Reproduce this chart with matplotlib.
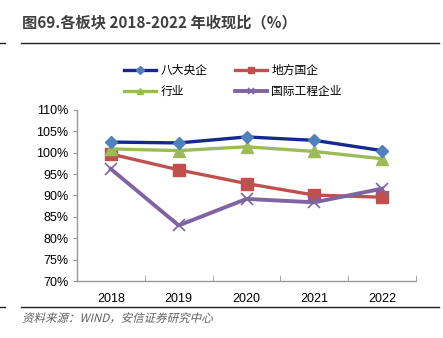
import matplotlib
matplotlib.use("Agg")
import matplotlib.pyplot as plt
from matplotlib.lines import Line2D
from matplotlib.textpath import TextPath
from matplotlib.patches import PathPatch
from matplotlib.font_manager import FontProperties
from matplotlib.transforms import Affine2D

plt.rcParams['font.family'] = ['Liberation Sans', 'Noto Sans CJK SC', 'DejaVu Sans']

years = ['2018', '2019', '2020', '2021', '2022']
central_soe = [102.5, 102.3, 103.7, 102.9, 100.5]   # 八大央企
local_soe = [99.7, 96.0, 92.8, 90.1, 89.6]          # 地方国企
industry = [100.9, 100.5, 101.4, 100.3, 98.6]       # 行业
intl_eng = [96.2, 83.0, 89.2, 88.4, 91.6]           # 国际工程企业
y_ticks = [70, 75, 80, 85, 90, 95, 100, 105, 110]

W, H = 443, 338
fig = plt.figure(figsize=(W / 100, H / 100), dpi=100)
ax = fig.add_axes([77 / W, 1 - 281 / H, (416 - 77) / W, (281 - 110) / H])

x = list(range(len(years)))
ax.plot(x, central_soe, color='#15288F', lw=2.4, marker='D', ms=6.5,
        mfc='#4F81BD', mec='#4F81BD', label='八大央企', zorder=4)
ax.plot(x, local_soe, color='#C0504D', lw=2.4, marker='s', ms=8,
        mfc='#C0504D', mec='#C0504D', label='地方国企', zorder=3)
ax.plot(x, industry, color='#9BBB59', lw=2.4, marker='^', ms=8,
        mfc='#9BBB59', mec='#9BBB59', label='行业', zorder=3)
ax.plot(x, intl_eng, color='#8064A2', lw=2.8, marker='x', ms=8, mew=1.2,
        label='国际工程企业', zorder=3)

ax.set_xlim(-0.5, len(years) - 0.5)
ax.set_ylim(70, 110)
ax.set_yticks(y_ticks)
ax.set_yticklabels([f'{v}%' for v in y_ticks])
ax.set_xticks(x)
ax.set_xticklabels(years)
ax.set_xticks([i + 0.5 for i in range(len(years))], minor=True)
ax.tick_params(axis='x', which='major', length=0, pad=9, labelsize=9)
ax.tick_params(axis='x', which='minor', direction='in', length=4, color='#999999')
ax.tick_params(axis='y', length=3, color='#999999', labelsize=9, pad=3)
for s in ['top', 'right']:
    ax.spines[s].set_visible(False)
for s in ['left', 'bottom']:
    ax.spines[s].set_color('#999999')
    ax.spines[s].set_linewidth(1.0)

handles, labels = ax.get_legend_handles_labels()
order = [0, 2, 1, 3]
leg = fig.legend([handles[i] for i in order], [labels[i] for i in order],
                 ncol=2, loc='upper left', bbox_to_anchor=(118 / W, 1 - 58 / H),
                 frameon=False, borderpad=0, handlelength=2.7, handletextpad=0.4,
                 columnspacing=2.3, labelspacing=0.7, markerscale=0.6,
                 prop={'family': ['Noto Sans CJK SC'], 'size': 8.5})

# title and frame lines
fig.text(22 / W, 1 - 22 / H, '图69.各板块 2018-2022 年收现比（%）', fontsize=11,
         fontweight='bold', color='#404040', va='center', ha='left',
         family=['Noto Sans CJK SC', 'DejaVu Sans'])
fig.add_artist(Line2D([21 / W, 439 / W], [1 - 43 / H, 1 - 43 / H], color='#222222', lw=1.0))
fig.add_artist(Line2D([21 / W, 439 / W], [1 - 307 / H, 1 - 307 / H], color='#222222', lw=1.0))
fig.add_artist(Line2D([0, 5 / W], [1 - 43 / H, 1 - 43 / H], color='#222222', lw=1.0))
fig.add_artist(Line2D([0, 5 / W], [1 - 307 / H, 1 - 307 / H], color='#222222', lw=1.0))

# italic-looking source note (skewed text path, in pixel coordinates)
src = '资料来源：WIND，安信证券研究中心'
tp = TextPath((0, 0), src, size=11.5, prop=FontProperties(family='Noto Sans CJK SC'))
tr = Affine2D().skew_deg(14, 0).translate(22, H - 322)
fig.add_artist(PathPatch(tr.transform_path(tp), transform=None,
                         facecolor='#606060', edgecolor='none'))

fig.savefig('out.png', dpi=100)
